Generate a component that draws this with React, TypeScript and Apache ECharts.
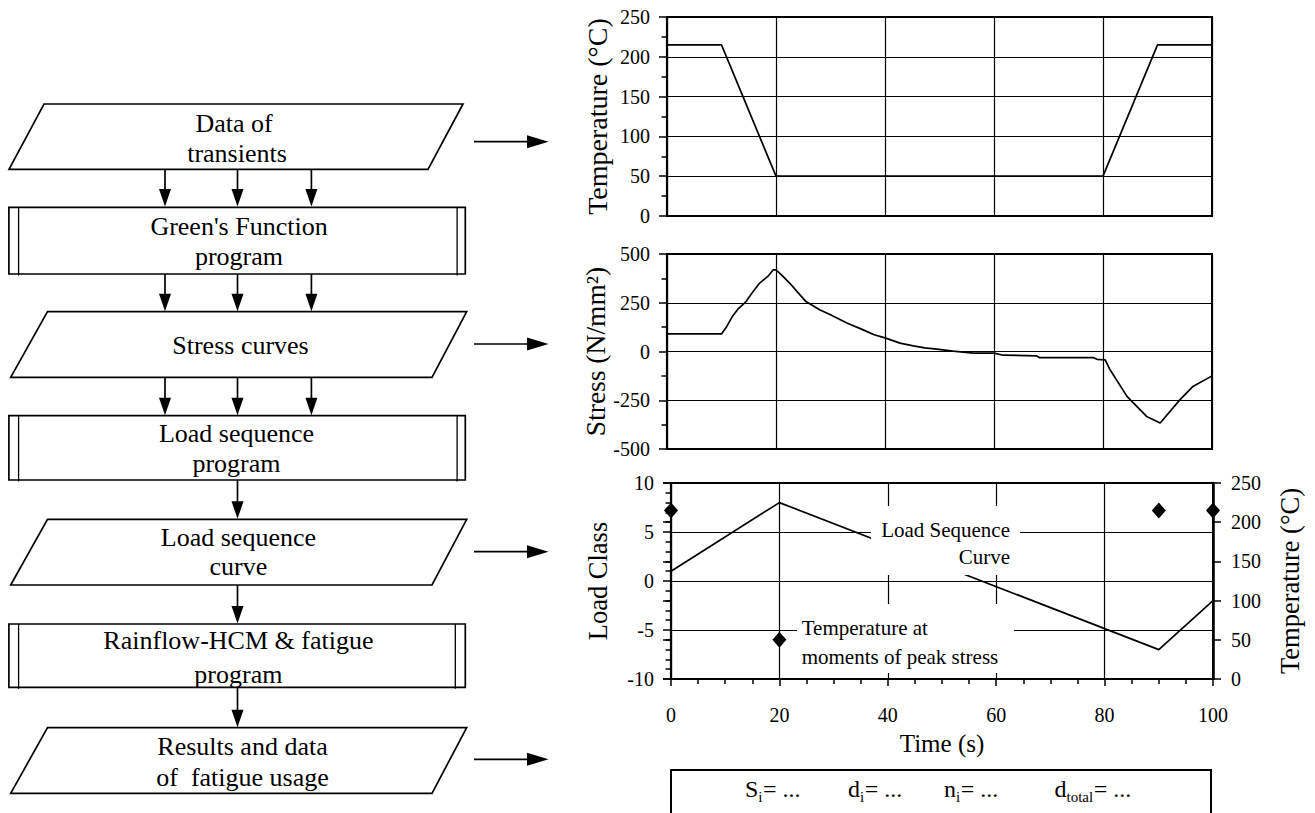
import React, { useEffect, useRef } from "react";
import * as echarts from "echarts";

const FONT = "'Liberation Serif', 'Times New Roman', Times, serif";

// ---------- data ----------
const tempTime = [0, 10, 20, 80, 90, 100];
const tempValues = [215, 215, 50, 50, 215, 215];

const stressTime = [0, 10, 11, 12, 13, 14.5, 15.5, 17, 18.5, 19.5, 20, 21, 22.5, 24, 25.5, 28, 30, 33, 36, 38, 40, 42.75, 45.2, 47.3, 49.5, 52.5, 56.2, 60, 61.7, 67.8, 68.3, 78.2, 78.9, 80.4, 81.3, 84.4, 88, 90.5, 91, 94.1, 96.5, 100];
const stressValues = [90, 90, 130, 180, 217, 256, 296, 351, 385, 419, 419, 393, 351, 303, 256, 214, 188, 146, 111, 86, 70, 43, 29, 19, 12, 2, -8, -8, -19, -22, -31, -31, -40, -43, -94, -230, -333, -367, -350, -248, -179, -125];

const loadTime = [0, 20, 90, 100];
const loadClass = [1, 8, -7, -2];

const peakTime = [0, 20, 90, 100];
const peakTemp = [215, 50, 215, 215];

const flowLabels = [
  ["Data of", "transients"],
  ["Green's Function", "program"],
  ["Stress curves"],
  ["Load sequence", "program"],
  ["Load sequence", "curve"],
  ["Rainflow-HCM & fatigue", "program"],
  ["Results and data", "of  fatigue usage"],
];
const loadCurveNote = ["Load Sequence", "Curve"];
const tempNote = ["Temperature at", "moments of peak stress"];
const resultTerms = [
  ["S", "i"],
  ["d", "i"],
  ["n", "i"],
  ["d", "total"],
];

// ---------- layout ----------
const boxes = [
  { kind: "para", top: 104, bottom: 169.3, tl: 44, tr: 463, bl: 9, br: 428, tx: 237, ty: [123, 153.3] },
  { kind: "rect", top: 207.3, bottom: 274, tx: 239, ty: [226, 256.7], innerR: 457.1 },
  { kind: "para", top: 311.7, bottom: 377.3, tl: 47.5, tr: 466.7, bl: 10.7, br: 432, tx: 240.5, ty: [345] },
  { kind: "rect", top: 415.7, bottom: 480, tx: 236.5, ty: [433.3, 463.3], innerR: 457.1 },
  { kind: "para", top: 519.3, bottom: 585, tl: 47.5, tr: 466.7, bl: 10.7, br: 432, tx: 238.4, ty: [537.3, 566.7] },
  { kind: "rect", top: 624, bottom: 687.3, tx: 238.4, ty: [640.7, 674], innerR: 455.3 },
  { kind: "para", top: 727.7, bottom: 793.3, tl: 47.5, tr: 466.7, bl: 10.7, br: 432, tx: 242.5, ty: [746, 777.7] },
];
const downArrows = [
  { xs: [165, 237.5, 311.4], y1: 169.3, y2: 206.5 },
  { xs: [165, 237.5, 311.4], y1: 274, y2: 311.2 },
  { xs: [165, 237.5, 311.4], y1: 377.3, y2: 415.2 },
  { xs: [237.5], y1: 480, y2: 518.8 },
  { xs: [237.5], y1: 585, y2: 623.5 },
  { xs: [237.5], y1: 687.3, y2: 727.2 },
];
const rightArrowsY = [141.7, 344, 551.7, 759.3];

function buildGraphics() {
  const els: any[] = [];
  const stroke = { stroke: "#000", lineWidth: 1.7, fill: "#fff" };
  boxes.forEach((b, i) => {
    if (b.kind === "para") {
      els.push({
        type: "polygon",
        shape: { points: [[b.tl, b.top], [b.tr, b.top], [b.br, b.bottom], [b.bl, b.bottom]] },
        style: { ...stroke },
      });
    } else {
      els.push({ type: "rect", shape: { x: 8.9, y: b.top, width: 456.4, height: b.bottom - b.top }, style: { ...stroke } });
      els.push({ type: "line", shape: { x1: 18.6, y1: b.top, x2: 18.6, y2: b.bottom + 1.5 }, style: { stroke: "#000", lineWidth: 1.3 } });
      els.push({ type: "line", shape: { x1: b.innerR!, y1: b.top, x2: b.innerR!, y2: b.bottom + 1.5 }, style: { stroke: "#000", lineWidth: 1.3 } });
    }
    flowLabels[i].forEach((t, j) => {
      els.push({
        type: "text",
        x: i === 0 && j === 0 ? 234 : b.tx,
        y: b.ty[j],
        z: 10,
        style: { text: t, fontSize: 26, fontFamily: FONT, fill: "#000", align: "center", verticalAlign: "middle" },
      });
    });
  });
  downArrows.forEach((a) => {
    a.xs.forEach((x) => {
      els.push({ type: "line", shape: { x1: x, y1: a.y1, x2: x, y2: a.y2 - 15 }, style: { stroke: "#000", lineWidth: 1.7 } });
      els.push({ type: "polygon", shape: { points: [[x - 6, a.y2 - 17.5], [x + 6, a.y2 - 17.5], [x, a.y2]] }, style: { fill: "#000" } });
    });
  });
  rightArrowsY.forEach((y) => {
    els.push({ type: "line", shape: { x1: 474, y1: y, x2: 530, y2: y }, style: { stroke: "#000", lineWidth: 1.7 } });
    els.push({ type: "polygon", shape: { points: [[527, y - 6.5], [548.5, y], [527, y + 6.5]] }, style: { fill: "#000" } });
  });

  // annotation boxes in the load-sequence chart
  els.push({ type: "rect", z: 100, shape: { x: 871, y: 506, width: 149, height: 69 }, style: { fill: "#fff" } });
  els.push({ type: "rect", z: 100, shape: { x: 797, y: 604, width: 217, height: 69 }, style: { fill: "#fff" } });
  els.push({ type: "text", z: 101, x: 1010, y: 530, style: { text: loadCurveNote[0], fontSize: 21, fontFamily: FONT, fill: "#000", align: "right", verticalAlign: "middle" } });
  els.push({ type: "text", z: 101, x: 1010, y: 557.3, style: { text: loadCurveNote[1], fontSize: 21, fontFamily: FONT, fill: "#000", align: "right", verticalAlign: "middle" } });
  els.push({ type: "text", z: 101, x: 801.7, y: 628.3, style: { text: tempNote[0], fontSize: 21, fontFamily: FONT, fill: "#000", align: "left", verticalAlign: "middle" } });
  els.push({ type: "text", z: 101, x: 801.7, y: 656.7, style: { text: tempNote[1], fontSize: 21, fontFamily: FONT, fill: "#000", align: "left", verticalAlign: "middle" } });

  // results box
  els.push({ type: "rect", shape: { x: 671, y: 770, width: 540, height: 70 }, style: { fill: "#fff", stroke: "#000", lineWidth: 2 } });
  const starts = [745, 848, 944, 1054.5];
  const mainW = [13.3, 12, 12, 12];
  const subW = [4.2, 4.2, 4.2, 26.7];
  resultTerms.forEach((t, i) => {
    const x0 = starts[i];
    els.push({ type: "text", z: 10, x: x0, y: 789, style: { text: t[0], fontSize: 24, fontFamily: FONT, fill: "#000", align: "left", verticalAlign: "middle" } });
    els.push({ type: "text", z: 10, x: x0 + mainW[i], y: 797, style: { text: t[1], fontSize: 15, fontFamily: FONT, fill: "#000", align: "left", verticalAlign: "middle" } });
    els.push({ type: "text", z: 10, x: x0 + mainW[i] + subW[i] + 0.5, y: 789, style: { text: "= ...", fontSize: 24, fontFamily: FONT, fill: "#000", align: "left", verticalAlign: "middle" } });
  });
  return els;
}

const black = "#000";
const axisLabelStyle = { color: black, fontSize: 20, fontFamily: FONT };
const nameStyle = (size: number) => ({ color: black, fontSize: size, fontFamily: FONT });

function xAxisBase(gridIndex: number, withLabels: boolean) {
  return {
    type: "value",
    gridIndex,
    min: 0,
    max: 100,
    interval: 20,
    axisLine: { show: true, onZero: false, lineStyle: { color: black, width: 2 } },
    axisTick: { show: withLabels, length: 7, lineStyle: { color: black, width: 1.5 } },
    minorTick: { show: withLabels, splitNumber: 4, length: 5, lineStyle: { color: black, width: 1.5 } },
    axisLabel: { show: withLabels, margin: 26, ...axisLabelStyle },
    splitLine: { show: true, lineStyle: { color: black, width: 1.2 } },
  };
}

function yAxisBase(gridIndex: number, min: number, max: number, interval: number, minorSplit: number, name: string, nameGap: number, nameSize: number) {
  return {
    type: "value",
    gridIndex,
    min,
    max,
    interval,
    name,
    nameLocation: "middle",
    nameGap,
    nameTextStyle: nameStyle(nameSize),
    axisLine: { show: true, onZero: false, lineStyle: { color: black, width: 2.2 } },
    axisTick: { show: true, length: 8, lineStyle: { color: black, width: 1.5 } },
    minorTick: { show: true, splitNumber: minorSplit, length: 5.5, lineStyle: { color: black, width: 1.5 } },
    axisLabel: { margin: 17, ...axisLabelStyle },
    splitLine: { show: true, lineStyle: { color: black, width: 1.2 } },
  };
}

const lineStyle = { color: black, width: 1.7 };

const option: any = {
  animation: false,
  backgroundColor: "#fff",
  textStyle: { fontFamily: FONT },
  grid: [
    { left: 667, top: 17, width: 545, height: 199, show: true, borderColor: black, borderWidth: 2, backgroundColor: "transparent" },
    { left: 667, top: 254, width: 545, height: 195, show: true, borderColor: black, borderWidth: 2, backgroundColor: "transparent" },
    { left: 671, top: 483, width: 542, height: 196, show: true, borderColor: black, borderWidth: 2, backgroundColor: "transparent" },
  ],
  xAxis: [
    xAxisBase(0, false),
    xAxisBase(1, false),
    { ...xAxisBase(2, true), name: "Time (s)", nameLocation: "middle", nameGap: 52, nameTextStyle: nameStyle(25) },
  ],
  yAxis: [
    yAxisBase(0, 0, 250, 50, 2, "Temperature (°C)", 56, 28),
    yAxisBase(1, -500, 500, 250, 2, "Stress (N/mm²)", 53, 27.5),
    yAxisBase(2, -10, 10, 5, 5, "Load Class", 60, 26.5),
    {
      type: "value",
      gridIndex: 2,
      position: "right",
      min: 0,
      max: 250,
      interval: 50,
      name: "Temperature (°C)",
      nameLocation: "middle",
      nameGap: 63,
      nameTextStyle: nameStyle(26.5),
      axisLine: { show: true, onZero: false, lineStyle: { color: black, width: 2.5 } },
      axisTick: { show: true, length: 8, lineStyle: { color: black, width: 1.5 } },
      axisLabel: { margin: 18, ...axisLabelStyle },
      splitLine: { show: false },
    },
    {
      type: "value",
      gridIndex: 2,
      position: "right",
      min: 0,
      max: 250,
      interval: 50,
      axisLine: { show: false },
      axisTick: { show: true, inside: true, length: 8, lineStyle: { color: black, width: 1.5 } },
      axisLabel: { show: false },
      splitLine: { show: false },
    },
  ],
  series: [
    {
      type: "line",
      xAxisIndex: 0,
      yAxisIndex: 0,
      showSymbol: false,
      lineStyle,
      data: tempTime.map((t, i) => [t, tempValues[i]]),
    },
    {
      type: "line",
      xAxisIndex: 1,
      yAxisIndex: 1,
      showSymbol: false,
      lineStyle,
      data: stressTime.map((t, i) => [t, stressValues[i]]),
    },
    {
      type: "line",
      xAxisIndex: 2,
      yAxisIndex: 2,
      showSymbol: false,
      lineStyle,
      data: loadTime.map((t, i) => [t, loadClass[i]]),
    },
    {
      type: "scatter",
      xAxisIndex: 2,
      yAxisIndex: 3,
      symbol: "diamond",
      symbolSize: [14, 16],
      itemStyle: { color: black, opacity: 1 },
      clip: false,
      z: 5,
      data: peakTime.map((t, i) => [t, peakTemp[i]]),
    },
  ],
  graphic: buildGraphics(),
};

export default function App() {
  const ref = useRef<HTMLDivElement>(null);
  useEffect(() => {
    const chart = echarts.init(ref.current!, null, { renderer: "svg" });
    chart.setOption(option);
    return () => chart.dispose();
  }, []);
  return (
    <div
      ref={ref}
      style={{ position: "fixed", left: 0, top: 0, width: 1315, height: 813, background: "#fff" }}
    />
  );
}
